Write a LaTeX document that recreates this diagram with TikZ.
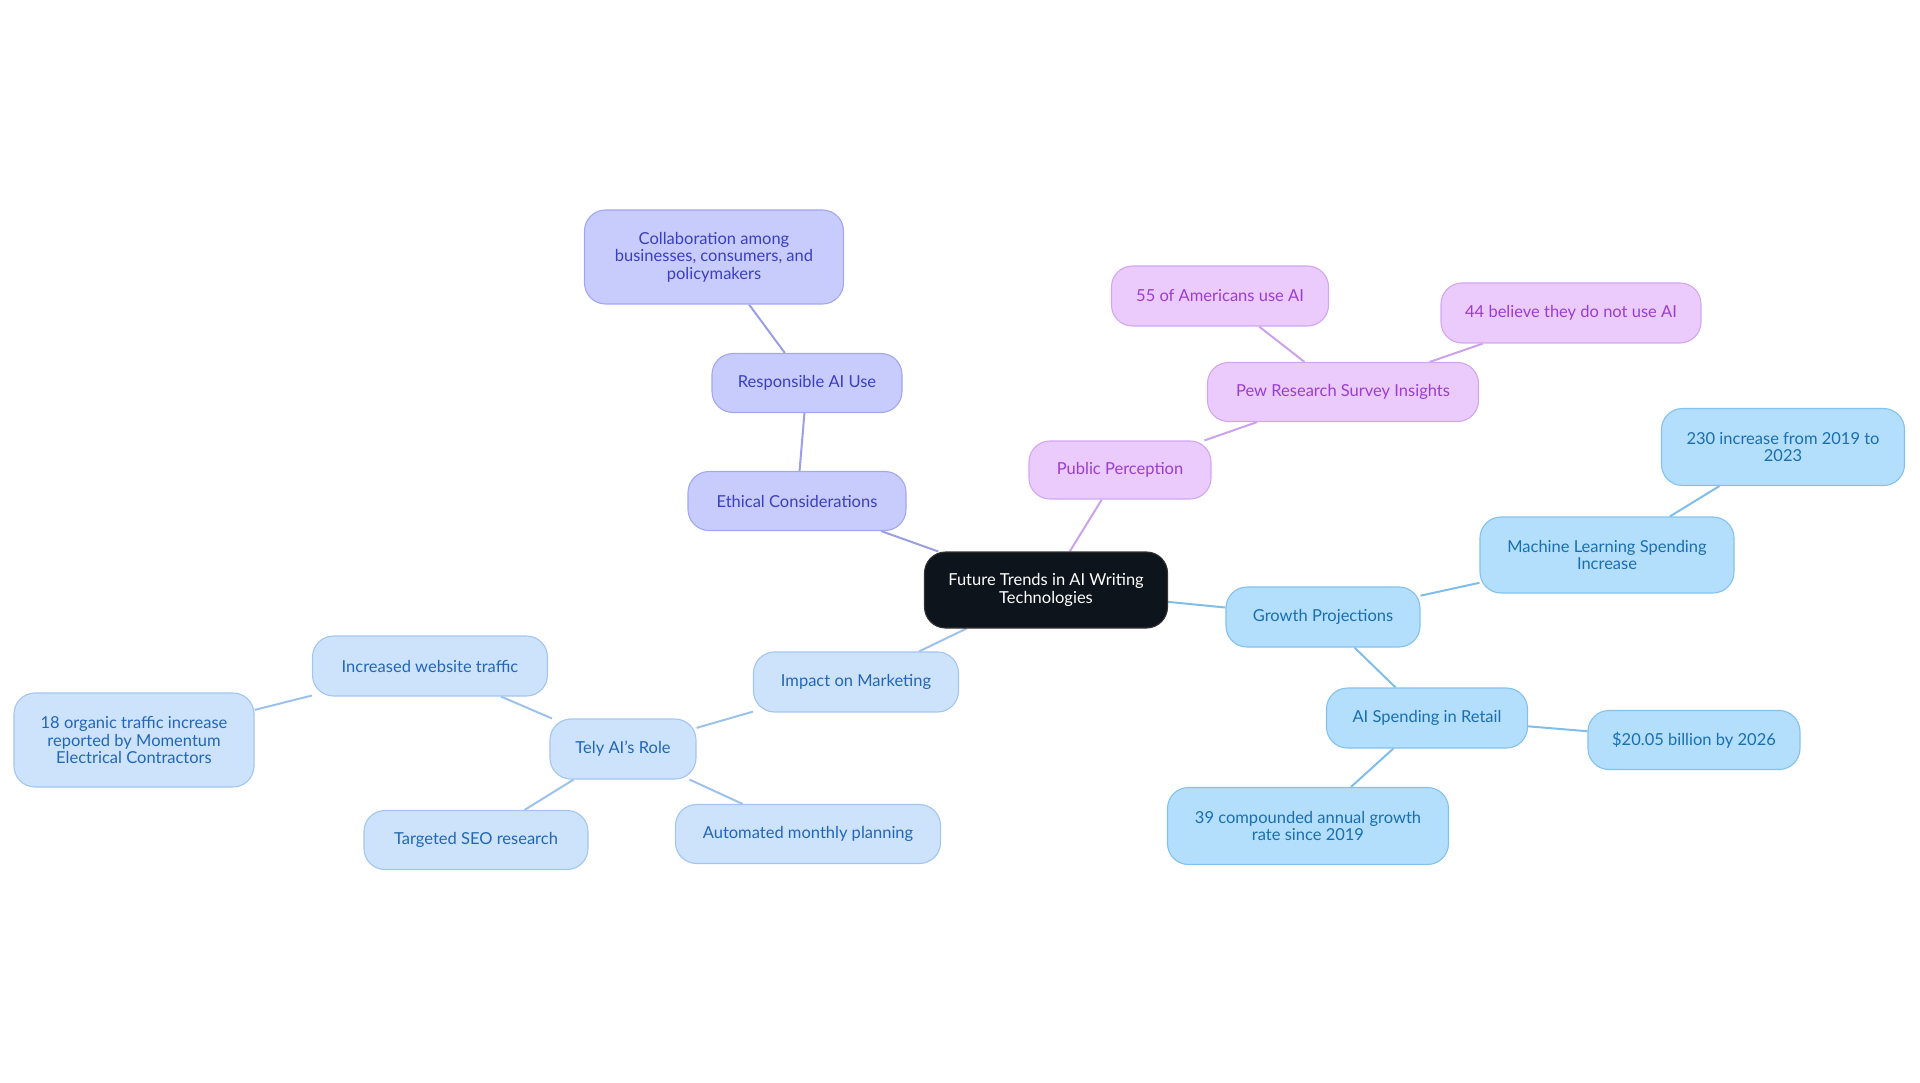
\documentclass[tikz,border=0pt]{standalone}
\usepackage{fontspec}
\setmainfont{Lato}
\usetikzlibrary{backgrounds}
\definecolor{ethFill}{HTML}{C8CCFC}
\definecolor{ethLine}{HTML}{A2A7F0}
\definecolor{ethText}{HTML}{3B3FC0}
\definecolor{ethEdge}{HTML}{9A9FE6}
\definecolor{pubFill}{HTML}{EACBFC}
\definecolor{pubLine}{HTML}{D4A6F2}
\definecolor{pubText}{HTML}{9B3DD0}
\definecolor{pubEdge}{HTML}{CDA2EC}
\definecolor{groFill}{HTML}{B3DEFC}
\definecolor{groLine}{HTML}{82C2EE}
\definecolor{groText}{HTML}{1A6FB0}
\definecolor{groEdge}{HTML}{7FBEE8}
\definecolor{impFill}{HTML}{CDE3FB}
\definecolor{impLine}{HTML}{A2C6F0}
\definecolor{impText}{HTML}{2266B8}
\definecolor{impEdge}{HTML}{9CC2EC}
\definecolor{rootFill}{HTML}{0E141C}
\begin{document}
\begin{tikzpicture}[x=1pt,y=-1pt,
  box/.style={rounded corners=21pt, draw, line width=1.1pt, align=center,
    font=\fontsize{16.5}{17.5}\selectfont, inner xsep=6pt, inner ysep=0pt},
  root/.style={box, fill=rootFill, draw=black!80, text=white},
  eth/.style={box, fill=ethFill, draw=ethLine, text=ethText},
  pub/.style={box, fill=pubFill, draw=pubLine, text=pubText},
  gro/.style={box, fill=groFill, draw=groLine, text=groText},
  imp/.style={box, fill=impFill, draw=impLine, text=impText},
  link/.style={line width=2pt},
]
\useasboundingbox (0,0) rectangle (1920,1083);

\node[root, minimum width=243pt, minimum height=76pt] (root) at (1046,590) {Future Trends in AI Writing\\Technologies};

\node[eth, minimum width=218pt, minimum height=59pt] (ethic) at (797,501) {Ethical Considerations};
\node[eth, minimum width=190pt, minimum height=59pt] (resp) at (807,383) {Responsible AI Use};
\node[eth, minimum width=259pt, minimum height=94pt] (collab) at (714,257) {Collaboration among\\businesses, consumers, and\\policymakers};

\node[pub, minimum width=182pt, minimum height=58pt] (public) at (1120,470) {Public Perception};
\node[pub, minimum width=271pt, minimum height=59pt] (pew) at (1343,392) {Pew Research Survey Insights};
\node[pub, minimum width=217pt, minimum height=60pt] (am55) at (1220,296) {55 of Americans use AI};
\node[pub, minimum width=260pt, minimum height=60pt] (bel44) at (1571,313) {44 believe they do not use AI};

\node[gro, minimum width=194pt, minimum height=60pt] (growth) at (1323,617) {Growth Projections};
\node[gro, minimum width=254pt, minimum height=76pt] (ml) at (1607,555) {Machine Learning Spending\\Increase};
\node[gro, minimum width=243pt, minimum height=77pt] (inc230) at (1783,447) {230 increase from 2019 to\\2023};
\node[gro, minimum width=201pt, minimum height=60pt] (retail) at (1427,718) {AI Spending in Retail};
\node[gro, minimum width=212pt, minimum height=59pt] (bil) at (1694,740) {\$20.05 billion by 2026};
\node[gro, minimum width=281pt, minimum height=77pt] (cagr) at (1308,826) {39 compounded annual growth\\rate since 2019};

\node[imp, minimum width=205pt, minimum height=60pt] (impact) at (856,682) {Impact on Marketing};
\node[imp, minimum width=146pt, minimum height=60pt] (tely) at (623,749) {Tely AI’s Role};
\node[imp, minimum width=235pt, minimum height=60pt] (traffic) at (430,666) {Increased website traffic};
\node[imp, minimum width=240pt, minimum height=94pt] (org18) at (134,740) {18 organic traffic increase\\reported by Momentum\\Electrical Contractors};
\node[imp, minimum width=224pt, minimum height=59pt] (seo) at (476,840) {Targeted SEO research};
\node[imp, minimum width=265pt, minimum height=59pt] (auto) at (808,834) {Automated monthly planning};

\begin{pgfonlayer}{background}
\draw[link, ethEdge] (root) -- (ethic);
\draw[link, ethEdge] (ethic) -- (resp);
\draw[link, ethEdge] (resp) -- (collab);
\draw[link, pubEdge] (root) -- (public);
\draw[link, pubEdge] (public) -- (pew);
\draw[link, pubEdge] (pew) -- (am55);
\draw[link, pubEdge] (pew) -- (bel44);
\draw[link, groEdge] (root) -- (growth);
\draw[link, groEdge] (growth) -- (ml);
\draw[link, groEdge] (ml) -- (inc230);
\draw[link, groEdge] (growth) -- (retail);
\draw[link, groEdge] (retail) -- (bil);
\draw[link, groEdge] (retail) -- (cagr);
\draw[link, impEdge] (root) -- (impact);
\draw[link, impEdge] (impact) -- (tely);
\draw[link, impEdge] (tely) -- (traffic);
\draw[link, impEdge] (traffic) -- (org18);
\draw[link, impEdge] (tely) -- (seo);
\draw[link, impEdge] (tely) -- (auto);
\end{pgfonlayer}
\end{tikzpicture}
\end{document}
